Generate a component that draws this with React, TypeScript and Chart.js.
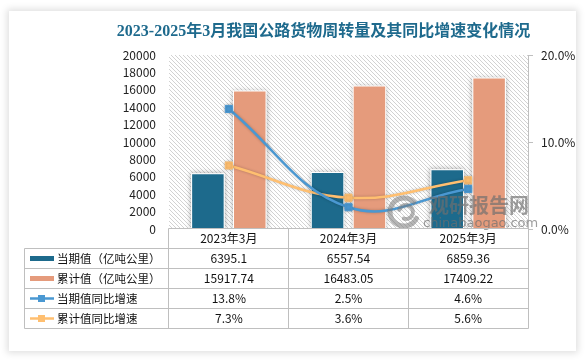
import React, { useEffect, useRef } from 'react';
import { Chart, registerables } from 'chart.js';

Chart.register(...registerables);

// ---------- data ----------
const title = '2023-2025年3月我国公路货物周转量及其同比增速变化情况';
const categories = ['2023年3月', '2024年3月', '2025年3月'];
const currentValues = [6395.1, 6557.54, 6859.36];
const cumulativeValues = [15917.74, 16483.05, 17409.22];
const currentGrowth = [13.8, 2.5, 4.6];
const cumulativeGrowth = [7.3, 3.6, 5.6];
const seriesNames = ['当期值（亿吨公里）', '累计值（亿吨公里）', '当期值同比增速', '累计值同比增速'];
const leftTickMax = 20000;
const leftTickStep = 2000;
const rightTickMax = 20;
const rightTickStep = 10;
const watermarkCn = '观研报告网';
const watermarkEn = 'chinabaogao.com';

// ---------- styles ----------
const W = 586;
const H = 361;
const FONT = '"Noto Sans CJK SC", "Noto Sans", sans-serif';
const TEAL = '#1d6a8c';
const ORANGE = '#e59b7c';
const BLUE = '#4a98d2';
const YELLOW = '#ffbf70';
const GRID = '#bfbfbf';

function makePattern(ctx: CanvasRenderingContext2D) {
  const c = document.createElement('canvas');
  c.width = 4;
  c.height = 4;
  const g = c.getContext('2d')!;
  g.fillStyle = '#ffffff';
  g.fillRect(0, 0, 4, 4);
  g.fillStyle = '#d2d2d2';
  for (let i = 0; i < 4; i++) g.fillRect(i, i, 1, 1);
  return ctx.createPattern(c, 'repeat');
}

const px = (v: number) => Math.floor(v) + 0.5;

const decorPlugin = {
  id: 'decor',
  beforeDraw(chart: any) {
    const { ctx, chartArea } = chart;
    ctx.save();
    const pat = makePattern(ctx);
    if (pat) ctx.fillStyle = pat;
    ctx.fillRect(chartArea.left, chartArea.top, chartArea.right - chartArea.left, chartArea.bottom - chartArea.top);
    ctx.restore();
  },
  beforeDatasetsDraw(chart: any) {
    const { ctx, chartArea } = chart;
    ctx.save();
    ctx.beginPath();
    ctx.rect(chartArea.left, chartArea.top, chartArea.right - chartArea.left, chartArea.bottom - chartArea.top);
    ctx.clip();
    ctx.shadowColor = 'rgba(0,0,0,0.35)';
    ctx.shadowBlur = 5;
    ctx.fillStyle = '#ffffff';
    chart.data.datasets.forEach((ds: any, i: number) => {
      const meta = chart.getDatasetMeta(i);
      if (meta.type !== 'bar') return;
      meta.data.forEach((el: any) => {
        const p = el.getProps(['x', 'y', 'base', 'width'], true);
        const top = Math.min(p.y, p.base);
        ctx.fillRect(p.x - p.width / 2, top, p.width, Math.abs(p.base - p.y));
      });
    });
    ctx.restore();
  },
  beforeDatasetDraw(chart: any, args: any) {
    if (args.meta.type === 'line') {
      const ctx = chart.ctx;
      ctx.save();
      ctx.shadowColor = 'rgba(0,0,0,0.25)';
      ctx.shadowBlur = 3;
    }
  },
  afterDatasetDraw(chart: any, args: any) {
    if (args.meta.type === 'line') chart.ctx.restore();
  },
  afterDatasetsDraw(chart: any) {
    // watermark
    const ctx = chart.ctx;
    ctx.save();
    ctx.fillStyle = 'rgba(110,110,110,0.68)';
    ctx.strokeStyle = 'rgba(120,120,120,0.55)';
    ctx.lineCap = 'round';
    ctx.lineWidth = 5;
    ctx.beginPath();
    ctx.arc(404, 212, 14, Math.PI * 0.15, Math.PI * 1.75);
    ctx.stroke();
    ctx.lineWidth = 4;
    ctx.beginPath();
    ctx.arc(406, 212, 7, Math.PI * 1.1, Math.PI * 2.6);
    ctx.stroke();
    ctx.font = `bold 20px ${FONT}`;
    ctx.textAlign = 'left';
    ctx.textBaseline = 'middle';
    ctx.fillText(watermarkCn, 429, 205);
    ctx.font = `13px "DejaVu Sans", ${FONT}`;
    ctx.fillText(watermarkEn, 423, 224);
    ctx.restore();
  },
  afterDraw(chart: any) {
    const { ctx, chartArea, scales } = chart;
    const { left, right } = chartArea;
    const x = scales.x;
    ctx.save();
    // title
    ctx.fillStyle = '#1e6a8d';
    ctx.font = `bold 16px "Liberation Serif", "Noto Sans CJK SC", serif`;
    ctx.textAlign = 'center';
    ctx.textBaseline = 'middle';
    ctx.fillText(title, 323.5, 32);

    // table grid
    const headerTop = 228.5;
    const rowH = 20;
    const rowsTop = 248.5;
    const tableLeft = 24.5;
    const cw = (right - left) / categories.length;
    ctx.strokeStyle = GRID;
    ctx.lineWidth = 1;
    ctx.beginPath();
    ctx.moveTo(px(left - 1), headerTop);
    ctx.lineTo(px(right), headerTop);
    for (let r = 0; r <= seriesNames.length; r++) {
      const y = rowsTop + r * rowH;
      ctx.moveTo(tableLeft, y);
      ctx.lineTo(px(right), y);
    }
    const bottom = rowsTop + seriesNames.length * rowH;
    ctx.moveTo(tableLeft, rowsTop);
    ctx.lineTo(tableLeft, bottom);
    ctx.moveTo(px(left - 1), headerTop);
    ctx.lineTo(px(left - 1), bottom);
    for (let i = 1; i <= categories.length; i++) {
      const xx = px(left + i * cw);
      ctx.moveTo(xx, headerTop);
      ctx.lineTo(xx, bottom);
    }
    ctx.stroke();

    // header labels
    ctx.fillStyle = '#111';
    ctx.font = `12px ${FONT}`;
    ctx.textAlign = 'center';
    ctx.textBaseline = 'middle';
    categories.forEach((c, i) => {
      ctx.fillText(c, x.getPixelForValue(i), headerTop + 10);
    });

    // rows
    const rows: string[][] = [
      currentValues.map((v) => String(v)),
      cumulativeValues.map((v) => String(v)),
      currentGrowth.map((v) => v.toFixed(1) + '%'),
      cumulativeGrowth.map((v) => v.toFixed(1) + '%'),
    ];
    const colors = [TEAL, ORANGE, BLUE, YELLOW];
    rows.forEach((vals, r) => {
      const yc = rowsTop + r * rowH + 10;
      if (r < 2) {
        ctx.fillStyle = colors[r];
        ctx.fillRect(30, yc - 2.5, 24, 5);
      } else {
        ctx.strokeStyle = colors[r];
        ctx.lineWidth = 2.5;
        ctx.beginPath();
        ctx.moveTo(30, yc);
        ctx.lineTo(54, yc);
        ctx.stroke();
        ctx.fillStyle = colors[r];
        ctx.fillRect(38, yc - 3.5, 7, 7);
      }
      ctx.fillStyle = '#111';
      ctx.textAlign = 'left';
      ctx.font = `11.5px ${FONT}`;
      ctx.fillText(seriesNames[r], 57, yc);
      ctx.textAlign = 'center';
      ctx.font = `12px ${FONT}`;
      vals.forEach((t, i) => ctx.fillText(t, x.getPixelForValue(i), yc));
    });
    ctx.restore();
  },
};

export default function App() {
  const ref = useRef<HTMLCanvasElement | null>(null);
  useEffect(() => {
    if (!ref.current) return;
    const chart = new Chart(ref.current, {
      type: 'bar',
      data: {
        labels: categories,
        datasets: [
          {
            type: 'line',
            label: seriesNames[2],
            data: currentGrowth,
            yAxisID: 'y1',
            borderColor: BLUE,
            backgroundColor: BLUE,
            borderWidth: 2.5,
            pointStyle: 'rect',
            pointRadius: 5,
            pointBorderWidth: 1,
            pointBorderColor: BLUE,
            pointBackgroundColor: BLUE,
            tension: 0.4,
            order: 0,
          } as any,
          {
            type: 'line',
            label: seriesNames[3],
            data: cumulativeGrowth,
            yAxisID: 'y1',
            borderColor: YELLOW,
            backgroundColor: YELLOW,
            borderWidth: 2.5,
            pointStyle: 'rect',
            pointRadius: 5,
            pointBorderWidth: 1,
            pointBorderColor: YELLOW,
            pointBackgroundColor: YELLOW,
            tension: 0.4,
            order: 1,
          } as any,
          {
            type: 'bar',
            label: seriesNames[0],
            data: currentValues,
            yAxisID: 'y',
            backgroundColor: TEAL,
            borderColor: '#ffffff',
            borderWidth: 1,
            borderSkipped: false,
            categoryPercentage: 0.7,
            barPercentage: 0.8,
            order: 2,
          } as any,
          {
            type: 'bar',
            label: seriesNames[1],
            data: cumulativeValues,
            yAxisID: 'y',
            backgroundColor: ORANGE,
            borderColor: '#ffffff',
            borderWidth: 1,
            borderSkipped: false,
            categoryPercentage: 0.7,
            barPercentage: 0.8,
            order: 2,
          } as any,
        ],
      },
      options: {
        responsive: false,
        animation: false,
        events: [],
        layout: { padding: { top: 55, left: 0, right: 0, bottom: 0 } },
        plugins: { legend: { display: false }, tooltip: { enabled: false }, title: { display: false } },
        scales: {
          x: {
            grid: { display: false },
            border: { display: false },
            ticks: { display: false },
            afterFit: (s: any) => {
              s.height = H - 229;
            },
          },
          y: {
            position: 'left',
            min: 0,
            max: leftTickMax,
            ticks: {
              stepSize: leftTickStep,
              padding: 13,
              color: '#222',
              font: { size: 12, family: FONT },
              callback: (v: any) => String(v),
            },
            grid: { display: false, drawTicks: false },
            border: { display: false },
            afterFit: (s: any) => {
              s.width = 169;
            },
          },
          y1: {
            position: 'right',
            min: 0,
            max: rightTickMax,
            ticks: {
              stepSize: rightTickStep,
              padding: 8,
              color: '#222',
              font: { size: 12, family: FONT },
              callback: (v: any) => Number(v).toFixed(1) + '%',
            },
            grid: { drawOnChartArea: false, drawTicks: true, tickLength: 5, color: GRID },
            border: { display: true, color: GRID },
            afterFit: (s: any) => {
              s.width = W - 528;
            },
          },
        },
      } as any,
      plugins: [decorPlugin],
    });
    return () => chart.destroy();
  }, []);

  return (
    <div style={{ position: 'fixed', left: 0, top: 0, width: W, height: H, background: '#ffffff', overflow: 'hidden' }}>
      <div
        style={{
          position: 'absolute',
          left: 9,
          top: 11,
          width: 567,
          height: 340,
          background: '#ffffff',
          boxShadow: '0 0 7px 2px rgba(0,0,0,0.13)',
        }}
      />
      <canvas ref={ref} width={W} height={H} style={{ position: 'absolute', left: 0, top: 0, width: W, height: H }} />
    </div>
  );
}
